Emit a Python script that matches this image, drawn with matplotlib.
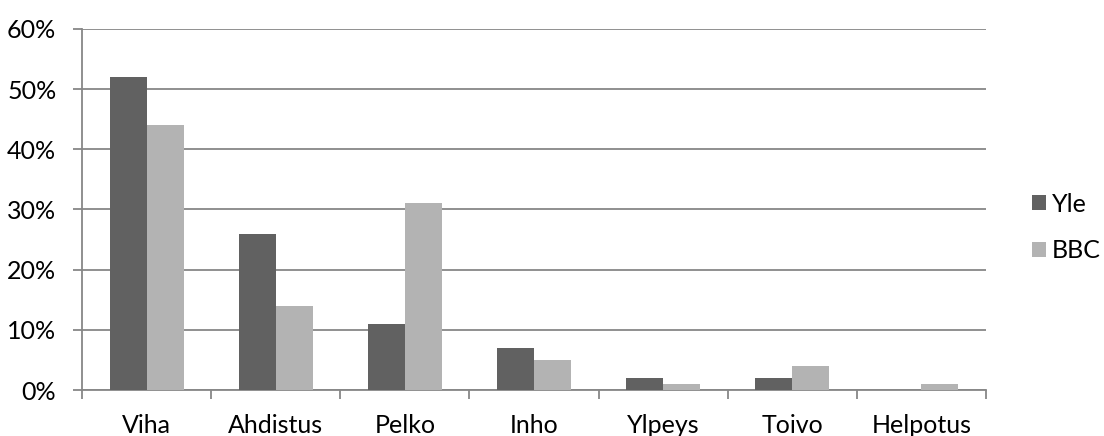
import matplotlib.pyplot as plt
import numpy as np
from matplotlib.ticker import FuncFormatter

categories = ["Viha", "Ahdistus", "Pelko", "Inho", "Ylpeys", "Toivo", "Helpotus"]
yle = [52, 26, 11, 7, 2, 2, 0]
bbc = [44, 14, 31, 5, 1, 4, 1]

plt.rcParams['font.family'] = ['Lato', 'DejaVu Sans']
fs = 18

fig = plt.figure(figsize=(11.04, 4.36), dpi=100)
ax = fig.add_axes([0.0743, 0.1055, 0.8187, 0.828])

x = np.arange(len(categories))
w = 0.286
ax.bar(x - w / 2, yle, w, color='#616161', label='Yle', zorder=3)
ax.bar(x + w / 2, bbc, w, color='#b3b3b3', label='BBC', zorder=3)

ax.set_xlim(-0.5, len(categories) - 0.5)
ax.set_ylim(0, 60)
ax.set_yticks(range(0, 61, 10))
ax.yaxis.set_major_formatter(FuncFormatter(lambda v, p: f"{v:.0f}%"))
ax.grid(axis='y', color='#878787', linewidth=1.3, zorder=0)

# category boundaries get the ticks, labels sit in between
ax.set_xticks(np.arange(-0.5, len(categories), 1))
ax.set_xticklabels([])
ax.set_xticks(x, minor=True)
ax.set_xticklabels(categories, minor=True, fontsize=fs)
ax.tick_params(axis='x', which='minor', length=0, pad=17)
ax.tick_params(axis='x', which='major', length=6.5, width=1.3, color='#878787')
ax.tick_params(axis='y', length=6.5, width=1.3, color='#878787', labelsize=fs, pad=12)

for side in ['top', 'right']:
    ax.spines[side].set_visible(False)
for side in ['left', 'bottom']:
    ax.spines[side].set_color('#878787')
    ax.spines[side].set_linewidth(1.3)

ax.legend(loc='center left', bbox_to_anchor=(1.04, 0.45), frameon=False,
          fontsize=fs, handlelength=0.55, handleheight=0.55, handletextpad=0.25,
          labelspacing=0.95, borderaxespad=0)

fig.savefig('out.png', dpi=100)
